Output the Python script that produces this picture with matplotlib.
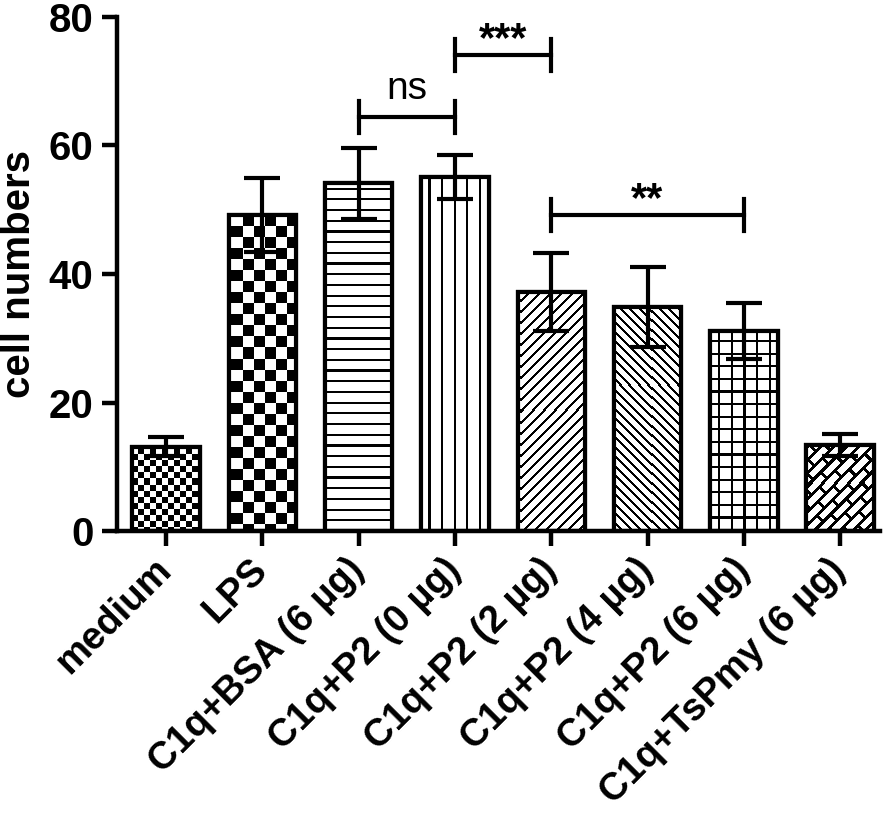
import numpy as np
import matplotlib
matplotlib.use("Agg")
import matplotlib.pyplot as plt

# values
groups = ["medium", "LPS", "C1q+BSA (6 µg)", "C1q+P2 (0 µg)", "C1q+P2 (2 µg)",
          "C1q+P2 (4 µg)", "C1q+P2 (6 µg)", "C1q+TsPmy (6 µg)"]
means = [13.1, 49.2, 54.1, 55.1, 37.2, 34.9, 31.1, 13.4]
errors = [1.5, 5.7, 5.5, 3.4, 6.0, 6.2, 4.4, 1.7]
yticks = [0, 20, 40, 60, 80]

# significance brackets: (left group, right group, height, label)
brackets = [(2, 3, 64.4, "ns"), (3, 4, 74.1, "***"), (4, 6, 49.2, "**")]

plt.rcParams["font.family"] = ["Liberation Sans", "DejaVu Sans"]

fig = plt.figure(figsize=(8.94, 8.21), dpi=100)
ax = fig.add_axes([117 / 894, 1 - 531 / 821, 763 / 894, 514 / 821])
x = np.arange(len(groups))
ax.set_xlim(-0.509, 7.414)
ax.set_ylim(0, 80)


# fill patterns, in pixel coordinates (y up)
def checker(s):
    return lambda X, Y: ((X // s + Y // s) % 2) == 0

def hlines(p, t):
    return lambda X, Y: (Y % p) < t

def vlines(p, t):
    return lambda X, Y: (X % p) < t

def fwd(p, t):
    return lambda X, Y: ((X - Y) % p) < t

def back(p, t):
    return lambda X, Y: ((X + Y) % p) < t

def grid(p, t):
    return lambda X, Y: ((X % p) < t) | ((Y % p) < t)

def bricks(rowp, brick, t):
    def f(X, Y):
        a = (X + Y) / np.sqrt(2)
        c = (X - Y) / np.sqrt(2)
        r = np.floor(c / rowp)
        return ((c % rowp) < t) | (((a + r * brick / 2) % brick) < t)
    return f

patterns = [checker(6), checker(11), hlines(10.7, 2.2), vlines(12.6, 2.2),
            fwd(11, 3), back(9.5, 3), grid(12.6, 2.2), bricks(9, 22, 3)]

bars = ax.bar(x, means, width=0.7, color="white", edgecolor="black",
              linewidth=3, zorder=2)

for bar, pat in zip(bars, patterns):
    bb = bar.get_window_extent()
    x0, x1 = int(np.floor(bb.x0)), int(np.ceil(bb.x1))
    y0, y1 = int(np.floor(bb.y0)), int(np.ceil(bb.y1))
    X, Y = np.meshgrid(np.arange(x0, x1) + 0.5, np.arange(y1, y0, -1) - 0.5)
    img = np.where(pat(X, Y), 0.0, 1.0)
    inv = ax.transData.inverted()
    (dx0, dy0), (dx1, dy1) = inv.transform([(x0, y0), (x1, y1)])
    im = ax.imshow(img, cmap="gray", vmin=0, vmax=1, extent=(dx0, dx1, dy0, dy1),
                   aspect="auto", interpolation="nearest", zorder=2.1)
    im.set_clip_path(bar)
    # redraw outline on top of the pattern
    ax.bar(bar.get_x() + bar.get_width() / 2, bar.get_height(), width=bar.get_width(),
           fill=False, edgecolor="black", linewidth=3, zorder=2.2)

ax.set_xlim(-0.509, 7.414)
ax.set_ylim(0, 80)

ax.errorbar(x, means, yerr=errors, fmt="none", ecolor="black", elinewidth=3,
            capsize=13.3, capthick=3, zorder=3)

for a, b, h, lab in brackets:
    ax.plot([x[a], x[b]], [h, h], color="black", lw=3, clip_on=False, zorder=4)
    for xx in (x[a], x[b]):
        ax.plot([xx, xx], [h - 2.5, h + 2.5], color="black", lw=3,
                clip_on=False, zorder=4)
    if lab == "ns":
        ax.text((x[a] + x[b]) / 2, h + 1.6, lab, ha="center", va="bottom",
                fontsize=28)
    else:
        ax.text((x[a] + x[b]) / 2, h - 0.8, lab, ha="center", va="bottom",
                fontsize=30, fontweight="bold")

ax.spines["top"].set_visible(False)
ax.spines["right"].set_visible(False)
for s in ("left", "bottom"):
    ax.spines[s].set_linewidth(3.2)

ax.set_yticks(yticks)
ax.set_yticklabels([str(v) for v in yticks], fontsize=29, fontweight="bold")
ax.set_xticks(x)
ax.set_xticklabels(groups, fontsize=27.5, fontweight="bold", rotation=45,
                   ha="right", va="center", rotation_mode="anchor")
ax.tick_params(axis="both", length=11, width=3.2, pad=6)
ax.tick_params(axis="x", pad=13)
ax.set_ylabel("cell numbers", fontsize=29, fontweight="bold", labelpad=8)

fig.savefig("out.png", dpi=100)
